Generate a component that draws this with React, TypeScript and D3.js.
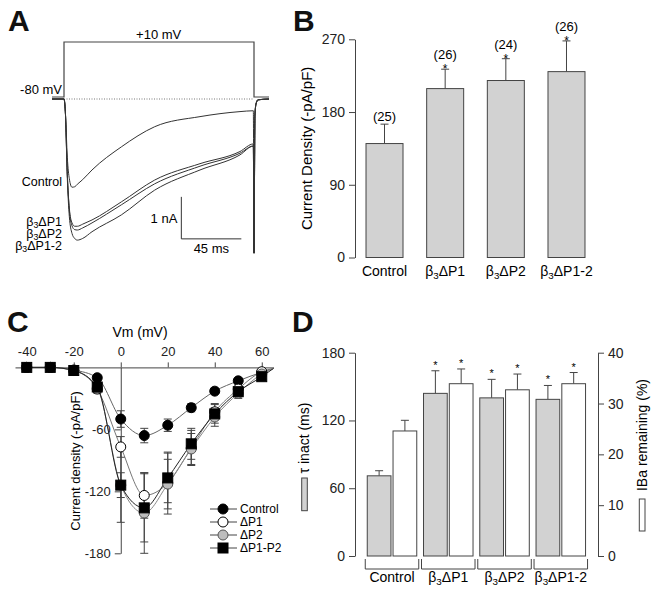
import React, { useEffect, useRef } from 'react';
import * as d3 from 'd3';

const FONT = 'Liberation Sans, Arial, Helvetica, sans-serif';

// ---- panel A: voltage step and sampled current traces (ms, nA)
const protoTimes = [-9, 0, 0, 142.5, 142.5, 153.75];
const protoVolts = [-80, -80, 10, 10, -80, -80];
const traceTimes = [-9, 0, 1, 2.5, 4, 6, 8, 10, 14, 21, 43, 68, 102, 132, 142, 142.5, 143.2, 144, 145.5, 153.75];
const traceControl = [0, 0, -0.3, -1.4, -1.9, -2.1, -2.09, -2.03, -1.92, -1.69, -1.14, -0.66, -0.42, -0.3, -0.28, -3.67, -0.4, -0.12, -0.02, 0];
const traceP1 = [0, 0, -0.3, -1.8, -2.6, -2.95, -3.03, -3.03, -2.98, -2.88, -2.45, -1.93, -1.54, -1.25, -1.07, -3.67, -0.4, -0.12, -0.02, 0];
const traceP2 = [0, 0, -0.3, -1.8, -2.65, -3.02, -3.11, -3.12, -3.07, -2.95, -2.52, -2.02, -1.6, -1.29, -1.12, -3.67, -0.4, -0.12, -0.02, 0];
const traceP12 = [0, 0, -0.3, -1.9, -2.8, -3.2, -3.32, -3.36, -3.32, -3.16, -2.76, -2.17, -1.69, -1.33, -1.12, -3.67, -0.4, -0.12, -0.02, 0];
const scaleBarTimes = [88, 133];
const scaleBarCurrents = [-2.33, -3.33];

// ---- panel B: current density
const bCategories = ['Control', 'ΔP1', 'ΔP2', 'ΔP1-2'];
const bMeans = [141, 209, 219, 230];
const bErrors = [24, 24, 27, 38];
const bCounts = [25, 26, 24, 26];
const bSignificant = [false, true, true, true];
const bTicks = [0, 90, 180, 270];

// ---- panel C: I-V relationship
const ivVoltages = [-40, -30, -20, -10, 0, 10, 20, 30, 40, 50, 60];
const ivControl = [0, 0, -2.5, -10, -50, -66, -56, -39, -23, -13, -4.7];
const ivP1 = [0, 0, -3, -21, -77, -124, -112, -78, -43, -21, -4.2];
const ivP2 = [0, 0, -3, -20, -114, -141, -113, -79, -48, -25, -6.4];
const ivP1P2 = [0, 0, -3, -19, -114, -136, -107, -74, -45, -23.5, -9];
const ivControlErr = [0, 0, 1, 2, 8, 7, 6, 4, 2, 1, 1];
const ivP1Err = [0, 0, 1, 4, 10, 22, 30, 17, 8, 5, 2];
const ivP2Err = [0, 0, 1, 4, 36, 39, 24, 15, 9, 5, 2];
const ivP1P2Err = [0, 0, 1, 4, 12, 33, 24, 15, 9, 5, 2];
const ivFitEnd = [65, -1];
const ivXTicks = [-40, -20, 0, 20, 40, 60];
const ivYTicks = [-60, -120, -180];

// ---- panel D: inactivation
const dGroups = ['Control', 'ΔP1', 'ΔP2', 'ΔP1-2'];
const tauMeans = [71, 144, 140, 138.7];
const tauErrors = [4.5, 20, 16.4, 12.3];
const remainMeans = [24.6, 33.9, 32.7, 33.9];
const remainErrors = [2.1, 2.9, 3.1, 2.2];
const dSignificant = [false, true, true, true];
const tauTicks = [0, 60, 120, 180];
const remainTicks = [0, 10, 20, 30, 40];

function betaLabel(text: any, rest: string, shift = 3) {
  if (rest === 'Control') {
    text.text('Control');
    return;
  }
  text.append('tspan').text('β');
  text.append('tspan').attr('font-size', '0.7em').attr('dy', shift).text('3');
  text.append('tspan').attr('dy', -shift).text(rest);
}

function styleAxis(g: any, size: number) {
  g.attr('color', '#333');
  g.selectAll('path, line').attr('stroke', '#444').attr('stroke-width', 1);
  g.selectAll('text').attr('font-family', FONT).attr('font-size', size).attr('fill', '#222');
}

export default function App() {
  const ref = useRef<SVGSVGElement>(null);

  useEffect(() => {
    if (!ref.current) return;
    const svg = d3.select(ref.current);
    svg.selectAll('*').remove();
    svg.attr('font-family', FONT);

    const letter = (t: string, x: number, y: number) =>
      svg.append('text').attr('x', x).attr('y', y).attr('font-size', 30).attr('font-weight', 'bold').attr('fill', '#111').text(t);
    letter('A', 8, 31);
    letter('B', 293, 31);
    letter('C', 7, 332);
    letter('D', 292, 332);

    // ================= A =================
    const tA = d3.scaleLinear().domain([-9, 153.75]).range([52, 269]);
    const iA = d3.scaleLinear().domain([0, -1]).range([99, 141]);
    const vA = d3.scaleLinear().domain([-80, 10]).range([97, 42]);
    const a = svg.append('g');

    const proto = d3.line<number>().x((d, i) => tA(protoTimes[i])).y(d => vA(d));
    a.append('path').attr('d', proto(protoVolts)).attr('fill', 'none').attr('stroke', '#444').attr('stroke-width', 1.2);

    a.append('line')
      .attr('x1', tA(0)).attr('x2', tA(142.5)).attr('y1', iA(0)).attr('y2', iA(0))
      .attr('stroke', '#777').attr('stroke-width', 1).attr('stroke-dasharray', '1,1.5');

    const trace = d3.line<number>().x((d, i) => tA(traceTimes[i])).y(d => iA(d)).curve(d3.curveMonotoneX);
    [traceControl, traceP1, traceP2, traceP12].forEach(tr => {
      a.append('path').attr('d', trace(tr)).attr('fill', 'none').attr('stroke', '#333').attr('stroke-width', 1);
    });

    // scale bar
    a.append('path')
      .attr('d', `M${tA(scaleBarTimes[0])},${iA(scaleBarCurrents[0])}V${iA(scaleBarCurrents[1])}H${tA(scaleBarTimes[1])}`)
      .attr('fill', 'none').attr('stroke', '#333').attr('stroke-width', 1);
    a.append('text').attr('x', tA(scaleBarTimes[0]) - 4).attr('y', 223).attr('text-anchor', 'end').attr('font-size', 13).text('1 nA');
    a.append('text').attr('x', (tA(scaleBarTimes[0]) + tA(scaleBarTimes[1])) / 2).attr('y', 253).attr('text-anchor', 'middle').attr('font-size', 13).text('45 ms');

    a.append('text').attr('x', tA(71)).attr('y', 39).attr('text-anchor', 'middle').attr('font-size', 13).text('+10 mV');
    a.append('text').attr('x', 62).attr('y', 94).attr('text-anchor', 'end').attr('font-size', 13).text('-80 mV');
    const traceLabels = [['Control', 186], ['ΔP1', 226], ['ΔP2', 238], ['ΔP1-2', 250]] as const;
    traceLabels.forEach(([lab, y]) => {
      const t = a.append('text').attr('x', 62).attr('y', y).attr('text-anchor', 'end').attr('font-size', 12.5);
      betaLabel(t, lab, 2);
    });

    // ================= B =================
    const xB = d3.scaleBand<string>().domain(bCategories).range([356, 595]).paddingInner(0.39).paddingOuter(0.165);
    const yB = d3.scaleLinear().domain([0, 270]).range([257.5, 39.3]);
    const b = svg.append('g');
    const axB = b.append('g').attr('transform', 'translate(355,0)')
      .call(d3.axisLeft(yB).tickValues(bTicks).tickSize(6).tickSizeOuter(0).tickPadding(4));
    styleAxis(axB, 14);

    bCategories.forEach((c, i) => {
      const x0 = xB(c)!;
      const cx = x0 + xB.bandwidth() / 2;
      const top = yB(bMeans[i] + bErrors[i]);
      b.append('line').attr('x1', cx).attr('x2', cx).attr('y1', yB(bMeans[i])).attr('y2', top).attr('stroke', '#444');
      b.append('line').attr('x1', cx - 4).attr('x2', cx + 4).attr('y1', top).attr('y2', top).attr('stroke', '#444');
      b.append('rect').attr('x', x0).attr('y', yB(bMeans[i])).attr('width', xB.bandwidth())
        .attr('height', yB(0) - yB(bMeans[i])).attr('fill', '#d2d2d2').attr('stroke', '#444').attr('stroke-width', 1);
      if (bSignificant[i]) {
        b.append('text').attr('x', cx).attr('y', top + 4).attr('text-anchor', 'middle').attr('font-size', 12).text('*');
      }
      b.append('text').attr('x', cx).attr('y', bSignificant[i] ? top - 10 : top - 3.5)
        .attr('text-anchor', 'middle').attr('font-size', 13).text(`(${bCounts[i]})`);
      const lab = b.append('text').attr('x', cx).attr('y', 276).attr('text-anchor', 'middle').attr('font-size', 14);
      betaLabel(lab, c);
    });
    b.append('text').attr('transform', `translate(312,${(yB(0) + yB(270)) / 2}) rotate(-90)`)
      .attr('text-anchor', 'middle').attr('font-size', 15).text('Current Density (-pA/pF)');

    // ================= C =================
    const xC = d3.scaleLinear().domain([-45, 65]).range([15, 273.5]);
    const yC = d3.scaleLinear().domain([0, -180]).range([367.4, 553.3]);
    const c = svg.append('g');
    const axCx = c.append('g').attr('transform', `translate(0,${yC(0)})`)
      .call(d3.axisTop(xC).tickValues(ivXTicks).tickFormat(d => String(d)).tickSize(5).tickSizeOuter(0).tickPadding(6));
    styleAxis(axCx, 13);
    const axCy = c.append('g').attr('transform', `translate(${xC(0)},0)`)
      .call(d3.axisLeft(yC).tickValues(ivYTicks).tickFormat(d => String(d)).tickSize(6).tickSizeOuter(0).tickPadding(4));
    styleAxis(axCy, 13);
    c.append('text').attr('x', 140).attr('y', 337).attr('text-anchor', 'middle').attr('font-size', 14).text('Vm (mV)');
    c.append('text').attr('transform', `translate(80,461) rotate(-90)`)
      .attr('text-anchor', 'middle').attr('font-size', 13).text('Current density (-pA/pF)');

    const series = [
      { name: 'Control', vals: ivControl, err: ivControlErr, shape: 'circle', fill: '#000', line: '#666' },
      { name: 'ΔP1', vals: ivP1, err: ivP1Err, shape: 'circle', fill: '#fff', line: '#777' },
      { name: 'ΔP2', vals: ivP2, err: ivP2Err, shape: 'circle', fill: '#bdbdbd', line: '#888' },
      { name: 'ΔP1-P2', vals: ivP1P2, err: ivP1P2Err, shape: 'square', fill: '#000', line: '#222' },
    ];
    const fit = d3.line<[number, number]>().x(d => xC(d[0])).y(d => yC(d[1])).curve(d3.curveMonotoneX);
    series.forEach(s => {
      const pts: [number, number][] = ivVoltages.map((v, i) => [v, s.vals[i]]);
      pts.push([ivFitEnd[0], ivFitEnd[1]]);
      c.append('path').attr('d', fit(pts)).attr('fill', 'none').attr('stroke', s.line).attr('stroke-width', 1);
    });
    series.forEach(s => {
      ivVoltages.forEach((v, i) => {
        const e = s.err[i];
        if (e < 2) return;
        const x = xC(v);
        const y1 = yC(s.vals[i] + e), y2 = yC(s.vals[i] - e);
        c.append('line').attr('x1', x).attr('x2', x).attr('y1', y1).attr('y2', y2).attr('stroke', '#444');
        [y1, y2].forEach(y => c.append('line').attr('x1', x - 4).attr('x2', x + 4).attr('y1', y).attr('y2', y).attr('stroke', '#444'));
      });
    });
    const marker = (g: any, s: any, x: number, y: number) => {
      if (s.shape === 'square') {
        g.append('rect').attr('x', x - 5).attr('y', y - 5).attr('width', 10).attr('height', 10).attr('fill', s.fill).attr('stroke', '#000');
      } else {
        g.append('circle').attr('cx', x).attr('cy', y).attr('r', 5).attr('fill', s.fill).attr('stroke', s.fill === '#bdbdbd' ? '#555' : '#000');
      }
    };
    series.forEach(s => ivVoltages.forEach((v, i) => marker(c, s, xC(v), yC(s.vals[i]))));

    series.forEach((s, i) => {
      const y = 509 + i * 13;
      c.append('line').attr('x1', 210).attr('x2', 237).attr('y1', y).attr('y2', y).attr('stroke', '#444');
      marker(c, s, 223, y);
      c.append('text').attr('x', 240).attr('y', y + 4).attr('font-size', 12).text(s.name);
    });

    // ================= D =================
    const gD = d3.scaleBand<string>().domain(dGroups).range([356, 596.8]).paddingInner(0.12).paddingOuter(0.2);
    const inner = d3.scaleBand<string>().domain(['tau', 'remain']).range([0, gD.bandwidth()]).paddingInner(0.08);
    const yTau = d3.scaleLinear().domain([0, 180]).range([556, 352.7]);
    const yRem = d3.scaleLinear().domain([0, 40]).range([556, 352.7]);
    const dd = svg.append('g');
    const axDl = dd.append('g').attr('transform', 'translate(355,0)')
      .call(d3.axisLeft(yTau).tickValues(tauTicks).tickSize(6).tickSizeOuter(0).tickPadding(4));
    styleAxis(axDl, 14);
    const axDr = dd.append('g').attr('transform', 'translate(598,0)')
      .call(d3.axisRight(yRem).tickValues(remainTicks).tickSize(6).tickSizeOuter(0).tickPadding(4));
    styleAxis(axDr, 14);

    dGroups.forEach((g, i) => {
      const g0 = gD(g)!;
      const bars = [
        { key: 'tau', y: yTau, m: tauMeans[i], e: tauErrors[i], fill: '#d2d2d2' },
        { key: 'remain', y: yRem, m: remainMeans[i], e: remainErrors[i], fill: '#fff' },
      ];
      bars.forEach(bb => {
        const x0 = g0 + inner(bb.key)!;
        const cx = x0 + inner.bandwidth() / 2;
        const top = bb.y(bb.m + bb.e);
        dd.append('line').attr('x1', cx).attr('x2', cx).attr('y1', bb.y(bb.m)).attr('y2', top).attr('stroke', '#444');
        dd.append('line').attr('x1', cx - 4).attr('x2', cx + 4).attr('y1', top).attr('y2', top).attr('stroke', '#444');
        dd.append('rect').attr('x', x0).attr('y', bb.y(bb.m)).attr('width', inner.bandwidth())
          .attr('height', bb.y(0) - bb.y(bb.m)).attr('fill', bb.fill).attr('stroke', '#444');
        if (dSignificant[i]) {
          dd.append('text').attr('x', cx).attr('y', top - 2).attr('text-anchor', 'middle').attr('font-size', 11).text('*');
        }
      });
      const bx0 = g0 - 2, bx1 = g0 + gD.bandwidth() + 2;
      dd.append('path').attr('d', `M${bx0},559V569H${bx1}V559`).attr('fill', 'none').attr('stroke', '#444');
      const lab = dd.append('text').attr('x', (bx0 + bx1) / 2).attr('y', 582).attr('text-anchor', 'middle').attr('font-size', 14);
      betaLabel(lab, g);
    });

    dd.append('text').attr('transform', 'translate(309,438) rotate(-90)').attr('text-anchor', 'middle').attr('font-size', 14).text('τ inact (ms)');
    dd.append('rect').attr('x', 301.7).attr('y', 478).attr('width', 5.6).attr('height', 32.7).attr('fill', '#d2d2d2').attr('stroke', '#444');
    dd.append('text').attr('transform', 'translate(647,435) rotate(-90)').attr('text-anchor', 'middle').attr('font-size', 14).text('IBa remaining (%)');
    dd.append('rect').attr('x', 639.3).attr('y', 499).attr('width', 5.7).attr('height', 32).attr('fill', '#fff').attr('stroke', '#444');
  }, []);

  return (
    <svg ref={ref} width={658} height={596} style={{ position: 'absolute', left: 0, top: 0, background: '#fff' }} />
  );
}
